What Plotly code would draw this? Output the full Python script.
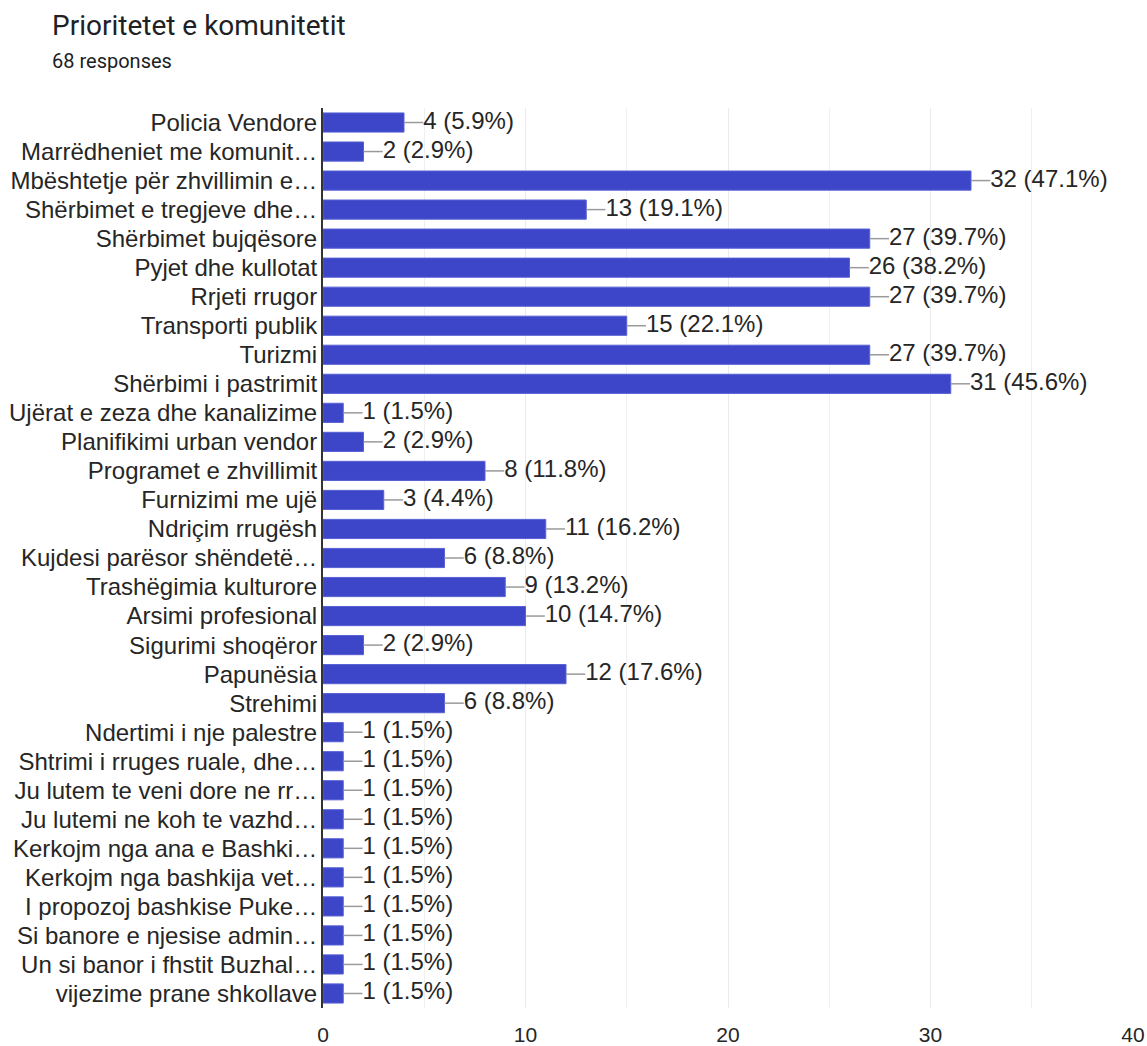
import plotly.graph_objects as go

title_text = "Prioritetet e komunitetit"
subtitle_text = "68 responses"

categories = [
    "Policia Vendore",
    "Marrëdheniet me komunit…",
    "Mbështetje për zhvillimin e…",
    "Shërbimet e tregjeve dhe…",
    "Shërbimet bujqësore",
    "Pyjet dhe kullotat",
    "Rrjeti rrugor",
    "Transporti publik",
    "Turizmi",
    "Shërbimi i pastrimit",
    "Ujërat e zeza dhe kanalizime",
    "Planifikimi urban vendor",
    "Programet e zhvillimit",
    "Furnizimi me ujë",
    "Ndriçim rrugësh",
    "Kujdesi parësor shëndetë…",
    "Trashëgimia kulturore",
    "Arsimi profesional",
    "Sigurimi shoqëror",
    "Papunësia",
    "Strehimi",
    "Ndertimi i nje palestre",
    "Shtrimi i rruges ruale, dhe…",
    "Ju lutem te veni dore ne rr…",
    "Ju lutemi ne koh te vazhd…",
    "Kerkojm nga ana e Bashki…",
    "Kerkojm nga bashkija vet…",
    "I propozoj bashkise Puke…",
    "Si banore e njesise admin…",
    "Un si banor i fhstit Buzhal…",
    "vijezime prane shkollave",
]

counts = [4, 2, 32, 13, 27, 26, 27, 15, 27, 31, 1, 2, 8, 3, 11, 6, 9, 10, 2, 12, 6,
          1, 1, 1, 1, 1, 1, 1, 1, 1, 1]

percents = ["5.9%", "2.9%", "47.1%", "19.1%", "39.7%", "38.2%", "39.7%", "22.1%",
            "39.7%", "45.6%", "1.5%", "2.9%", "11.8%", "4.4%", "16.2%", "8.8%",
            "13.2%", "14.7%", "2.9%", "17.6%", "8.8%", "1.5%", "1.5%", "1.5%",
            "1.5%", "1.5%", "1.5%", "1.5%", "1.5%", "1.5%", "1.5%"]

x_ticks = [0, 10, 20, 30, 40]

BAR = "#3d46c8"
TEXT = "#262626"
LEAD = 0.95  # connector length in data units

labels = [f"{c} ({p})" for c, p in zip(counts, percents)]

fig = go.Figure()
fig.add_trace(go.Bar(
    y=categories, x=counts, orientation="h",
    marker=dict(color=BAR, line=dict(color="#5860d4", width=1)),
    hoverinfo="skip", showlegend=False,
))

# connector lines
lx, ly = [], []
for c, cat in zip(counts, categories):
    lx += [c, c + LEAD, None]
    ly += [cat, cat, None]
fig.add_trace(go.Scatter(
    x=lx, y=ly, mode="lines", line=dict(color="#9a9a9a", width=1.5),
    hoverinfo="skip", showlegend=False,
))
fig.add_trace(go.Scatter(
    x=[c + LEAD for c in counts], y=categories, mode="text",
    text=labels, textposition="middle right",
    textfont=dict(family="Liberation Sans, Arial", size=24, color=TEXT),
    hoverinfo="skip", showlegend=False,
))

W, H = 1147, 1046
L, T, R, B = 323, 108, 14, 38
PW, PH = W - L - R, H - T - B
n = len(categories)

fig.update_layout(
    width=W, height=H,
    margin=dict(l=L, r=R, t=T, b=B),
    paper_bgcolor="white", plot_bgcolor="white",
    bargap=0.34,
    font=dict(family="Liberation Sans, Arial", color=TEXT),
    xaxis=dict(
        range=[0, 40], tickvals=x_ticks, ticktext=[str(t) for t in x_ticks],
        showgrid=True, gridcolor="#ebebeb", gridwidth=1,
        minor=dict(dtick=5, showgrid=True, gridcolor="#efefef", gridwidth=1),
        zeroline=False, showline=False,
        ticks="outside", ticklen=8, tickcolor="rgba(0,0,0,0)",
        tickfont=dict(family="Liberation Sans, Arial", size=21, color=TEXT),
        automargin=False, fixedrange=True,
    ),
    yaxis=dict(
        range=[n - 0.5, -0.5], showline=True, linecolor="#333333", linewidth=2,
        tickmode="array", tickvals=categories, ticktext=categories,
        showgrid=False, ticks="", ticklabelstandoff=-1,
        tickfont=dict(family="Liberation Sans, Arial", size=24, color=TEXT),
        automargin=False, fixedrange=True,
    ),
    annotations=[
        dict(text=title_text, xref="paper", yref="paper",
             x=(50 - L) / PW, y=(PH + T - 25) / PH, xanchor="left", yanchor="middle",
             showarrow=False, font=dict(family="Roboto", size=28, color="#202124")),
        dict(text=subtitle_text, xref="paper", yref="paper",
             x=(50 - L) / PW, y=(PH + T - 61) / PH, xanchor="left", yanchor="middle",
             showarrow=False, font=dict(family="Roboto", size=20, color="#202124")),
    ],
)

fig.write_html(
    "out.html",
    config={"displayModeBar": False},
    post_script="document.body.style.margin='0';document.body.style.overflow='hidden';",
)
